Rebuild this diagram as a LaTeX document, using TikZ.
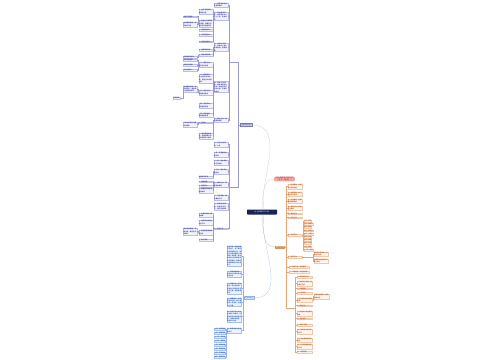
\documentclass[tikz,border=0pt]{standalone}
\usepackage{fontspec}
\setmainfont{Noto Sans CJK SC}
\XeTeXlinebreaklocale "zh"
\XeTeXlinebreakskip = 0pt plus 1pt
\usetikzlibrary{calc}

\definecolor{navy}{HTML}{1B2357}
\definecolor{bbox}{HTML}{BCBCE8}
\definecolor{btext}{HTML}{5050AC}
\definecolor{bline}{HTML}{9898DA}
\definecolor{sbox}{HTML}{A4BEEE}
\definecolor{stext}{HTML}{3F6CC4}
\definecolor{sline}{HTML}{94B2EC}
\definecolor{obox}{HTML}{F2C6A8}
\definecolor{otext}{HTML}{C4672E}
\definecolor{oline}{HTML}{E8A474}
\definecolor{pinkfill}{HTML}{F4A2A2}
\definecolor{ptext}{HTML}{8C2E2E}
\newcommand{\leaffont}{\bfseries\fontsize{4.3}{6.5}\selectfont}

\begin{document}
\begin{tikzpicture}[x=0.1cm,y=-0.1cm]
	\tikzset{leafbox/.style={draw=#1,line width=0.25pt,fill=#1!20,inner sep=0.6pt,align=left,font=\leaffont}}
	\tikzset{bleaf/.style={leafbox=bbox,text=btext,text width=1.35cm,anchor=east}}
	\tikzset{sleaf/.style={leafbox=sbox,text=stext,text width=1.4cm,anchor=east}}
	\tikzset{sitem/.style={leafbox=sbox,text=stext,anchor=east}}
	\tikzset{oleaf/.style={leafbox=obox,text=otext,text width=1.4cm,anchor=west}}
	\tikzset{oitem/.style={leafbox=obox,text=otext,anchor=west}}
	\tikzset{bedge/.style={draw=bline,line width=0.25pt}}
	\tikzset{sedge/.style={draw=sline,line width=0.25pt}}
	\tikzset{oedge/.style={draw=oline,line width=0.25pt}}
	\tikzset{branch/.style={inner sep=0.5pt,minimum height=0.3cm,font=\fontsize{4}{4.5}\selectfont}}

	\fill[white] (0,0) rectangle (500,360);
	\useasboundingbox (0,0) rectangle (500,360);

	% centre and main branches
	\node[fill=navy,text=white,rounded corners=1.5pt,minimum width=3cm,minimum height=0.5cm,
	      inner sep=0.5pt,font=\fontsize{4.6}{5}\selectfont] (ctr) at (262,212) {幼儿园班级工作计划};
	\node[branch,fill=bbox!80,draw=bline!80!black,text=btext!70!black,minimum width=1.2cm,anchor=west] (A) at (240,125) {班级工作计划};
	\node[branch,fill=sbox!45,draw=sline,text=stext,minimum width=1cm,anchor=west] (B) at (244,298) {工作计划范文};
	\node[branch,fill=oline!90!black,text=white,minimum width=1cm] (C) at (280,247) {学期工作计划};
	\node[fill=pinkfill,text=ptext,rounded corners=3pt,text width=1.95cm,align=center,inner sep=1.5pt,
	      font=\fontsize{5}{6}\selectfont] (P) at (284.5,179) {幼儿园班级工作计划\\范文（通用）};

	\draw[draw=bbox,line width=0.5pt] (ctr.north) to[out=90,in=0] (A.east);
	\draw[draw=gray!40,line width=0.5pt] ([xshift=0.15cm]ctr.north) to[out=90,in=180] (P.west);
	\draw[draw=sline,line width=0.5pt] (ctr.south) to[out=-90,in=0] (B.east);
	\draw[draw=oline,line width=0.5pt] ([xshift=0.15cm]ctr.south) to[out=-90,in=180] (C.west);

	% branch A, upper group
	\coordinate (ja1) at (229.5,62);
	\coordinate (ja2) at (229.5,187);
	\node[bleaf] (a1) at (228,5) {一、指导思想与总体目标要求};
	\node[bleaf] (a2) at (228,16) {二、班级情况分析：本班现有幼儿三十二名，男女各半};
	\node[bleaf] (a3) at (228,47) {三、学期工作目标：促进幼儿身心和谐发展，提高质量};
	\node[bleaf] (a4) at (228,87) {四、具体工作措施：结合本班幼儿实际，制定切实可行的计划，开展多种活动};
	\node[bleaf] (a5) at (228,120) {五、家长工作：加强家园联系};
	\node[bleaf] (m1) at (212.7,11.5) {1、生活习惯良好，自理能力强};
	\node[bleaf] (m2) at (212.7,23.5) {2、部分幼儿规则意识较弱，需要在日常生活中加强引导};
	\node[bleaf] (m3) at (212.7,30) {3、语言表达能力};
	\node[bleaf] (m4) at (212.7,35) {4、动手操作能力};
	\node[bleaf] (m5) at (212.7,41.5) {5、社会交往能力};
	\node[bleaf] (m6) at (212.7,50) {1、健康领域目标};
	\node[bleaf] (m7) at (212.7,55) {2、语言领域目标};
	\node[bleaf] (l1) at (197.4,16.5) {注重个别差异};
	\node[bleaf] (l2) at (197.4,24.5) {加强常规教育，培养良好习惯};
	\node[bleaf] (l3) at (197.4,57) {能清楚表达想法};
	\node[bleaf] (m8) at (212.7,64.5) {（一）保育工作：做好卫生消毒};
	\node[bleaf] (m9) at (212.7,78.5) {（二）教育教学：以主题活动为主线，整合五大领域内容};
	\node[bleaf] (m10) at (212.7,92.5) {（三）安全工作：加强安全教育};
	\node[bleaf] (m11) at (212.7,105.5) {（四）区域活动：丰富材料投放};
	\node[bleaf] (m12) at (212.7,115) {（五）环境创设：营造温馨氛围};
	\node[bleaf] (l4) at (197.4,60) {每日开窗通风};
	\node[bleaf] (l5) at (197.4,65) {餐具定时消毒};
	\node[bleaf] (l6) at (197.4,70) {关注体弱幼儿};
	\node[bleaf] (l7) at (197.4,89) {利用晨间谈话、游戏等形式，增强幼儿自我保护意识};
	\node[bleaf,text width=0.7cm] (l8) at (180.5,98) {定期演练};
	\node[bleaf] (m13) at (212.7,122.5) {1、家长会};
	\node[bleaf] (m14) at (212.7,136) {2、通过家园联系栏、微信群等方式及时反馈幼儿情况};
	\node[bleaf] (l9) at (197.4,124.5) {介绍本学期工作重点与要求};

	% branch A, lower group
	\node[bleaf] (a6) at (228,144.5) {六、月份工作安排：九月};
	\node[bleaf] (a7) at (228,154.5) {十月：开展国庆主题活动};
	\node[bleaf] (a8) at (228,162.5) {十一月：举办秋季亲子运动会};
	\node[bleaf] (a9) at (228,171.5) {十二月：迎新年主题活动};
	\node[bleaf] (a10) at (228,184.5) {七、教研工作：积极参加教研};
	\node[bleaf] (a11) at (228,197.5) {八、卫生保健：做好晨检工作};
	\node[bleaf] (a12) at (228,206.5) {九、教师自身提高：加强业务学习，提升专业素养};
	\node[bleaf] (a13) at (228,228.5) {十、其他工作};
	\node[bleaf] (m15) at (212.7,177) {布置新年环境};
	\node[bleaf] (m16) at (212.7,181.5) {1、集体备课};
	\node[bleaf] (m17) at (212.7,186) {2、观摩研讨};
	\node[bleaf] (m18) at (212.7,190.5) {3、撰写教学反思与经验总结};
	\node[bleaf] (m19) at (212.7,215) {1、认真完成幼儿成长档案};
	\node[bleaf] (m20) at (212.7,222.5) {2、做好期末总结与评价工作};
	\node[bleaf] (m21) at (212.7,232.5) {3、配合园部完成各项任务};
	\node[bleaf] (m22) at (212.7,240) {4、财产管理};
	\node[bleaf] (l10) at (197.4,231.5) {爱护班级物品，定期清点，做好登记与维护};

	% edges of branch A
	\draw[bedge] (A.west) -- ++(-2,0) |- (ja1);
	\draw[bedge] (A.west) -- ++(-2,0) |- (ja2);
	\foreach \r in {a1,a2,a3,a4,a5} \draw[bedge] (ja1) |- (\r.east);
	\foreach \r in {a6,a7,a8,a9,a10,a11,a12,a13} \draw[bedge] (ja2) |- (\r.east);
	\foreach \c in {m1,m2,m3,m4,m5} \draw[bedge] (a2.west) -- ++(-0.7,0) |- (\c.east);
	\foreach \c in {m6,m7} \draw[bedge] (a3.west) -- ++(-0.7,0) |- (\c.east);
	\foreach \c in {m8,m9,m10,m11,m12} \draw[bedge] (a4.west) -- ++(-0.7,0) |- (\c.east);
	\foreach \c in {m13,m14} \draw[bedge] (a5.west) -- ++(-0.7,0) |- (\c.east);
	\foreach \c in {l1,l2} \draw[bedge] (m2.west) -- ++(-0.7,0) |- (\c.east);
	\foreach \c in {l4,l5,l6} \draw[bedge] (m8.west) -- ++(-0.7,0) |- (\c.east);
	\draw[bedge] (m7.west) -- ++(-0.7,0) |- (l3.east);
	\draw[bedge] (m10.west) -- ++(-0.7,0) |- (l7.east);
	\draw[bedge] (l7.west) -- ++(-0.5,0) |- (l8.east);
	\draw[bedge] (m13.west) -- ++(-0.7,0) |- (l9.east);
	\draw[bedge] (a9.west) -- ++(-0.7,0) |- (m15.east);
	\foreach \c in {m16,m17,m18} \draw[bedge] (a10.west) -- ++(-0.7,0) |- (\c.east);
	\foreach \c in {m19,m20,m21,m22} \draw[bedge] (a13.west) -- ++(-0.7,0) |- (\c.east);
	\draw[bedge] (m21.west) -- ++(-0.7,0) |- (l10.east);

	% branch B
	\node[sleaf] (b1) at (241.5,256) {时光飞逝，新的学期又开始了。为了更好地开展班级工作，使幼儿在原有基础上得到进一步发展，结合本班幼儿的年龄特点和实际情况，特制定本学期班级工作计划如下。};
	\node[sleaf] (b2) at (241.5,274) {一、班级基本情况：本班幼儿大部分来自周边社区};
	\node[sleaf] (b3) at (241.5,288.5) {二、保教工作：严格执行一日生活常规，培养幼儿良好的生活卫生习惯，提高自理能力};
	\node[sleaf] (b4) at (241.5,302) {三、教育教学：认真制定周计划，精心准备每一次活动，注重幼儿兴趣};
	\node[sleaf] (b5) at (241.5,316.5) {四、安全工作：树立安全第一的思想，认真检查活动场地和设施，消除安全隐患，确保幼儿安全};
	\node[sleaf] (b6) at (241.5,330.5) {五、每月具体工作安排如下};
	\foreach \t [count=\i] in {九月：稳定情绪,十月：常规培养,十一月：家长会,十二月：迎新年,一月：期末总结,二月：寒假安排,三月：开学准备,四月：春游活动}
		\node[sitem] (s\i) at (225.5,325+4*\i) {\t};
	\foreach \c in {b1,b2,b3,b4,b5,b6} \draw[sedge] (B.west) -- ++(-1.2,0) |- (\c.east);
	\foreach \i in {1,...,8} \draw[sedge] (b6.west) -- ++(-0.7,0) |- (s\i.east);

	% branch C
	\coordinate (jc) at (295,308);
	\node[oleaf] (c1) at (287.5,186.5) {一、指导思想：以园务计划为依据};
	\node[oleaf] (c2) at (287.5,194) {二、班级现状：幼儿适应能力较强};
	\node[oleaf] (c3) at (287.5,201) {三、工作目标：全面提高保教质量};
	\node[oleaf] (c4) at (287.5,208) {四、保育工作：抓好生活常规};
	\node[oleaf] (c5) at (287.5,213.5) {五、教育工作};
	\node[oleaf] (c6) at (287.5,217.5) {六、安全工作};
	\node[oleaf] (c7) at (287.5,235) {七、月份安排};
	\node[oleaf] (c8) at (287.5,257) {八、家长工作};
	\node[oleaf,text width=2cm] (c9) at (289,267) {九、教研工作：参加教研};
	\node[oleaf,text width=2cm] (c10) at (289,272) {十、环境创设：布置主题墙};
	\foreach \t [count=\i] in {二月：开学,三月：植树节,四月：春游,五月：劳动节,六月：儿童节,七月：毕业,八月：暑期,九月：入园,十月：国庆,十一月：体检}
		\node[oitem] (f\i) at (303.5,217.8+3.2*\i) {\t};
	\node[oleaf,text width=1.45cm] (e1) at (313.5,254) {定期召开家长会，交流育儿经验};
	\node[oleaf,text width=1.45cm] (e2) at (313.5,261) {利用家园栏宣传科学育儿知识};
	\node[oleaf,text width=1.5cm] (o1) at (297,277) {1、晨间接待工作};
	\node[oleaf,text width=1.5cm] (o2) at (297,283.5) {2、组织幼儿进餐，培养良好习惯};
	\node[oleaf,text width=1.5cm] (o3) at (297,288.5) {3、午睡管理};
	\node[oleaf,text width=1.5cm] (o4) at (297,293) {4、户外活动};
	\node[oleaf,text width=1.5cm] (o5) at (297,300) {5、区域活动材料定期更换};
	\node[oleaf,text width=1.5cm] (o6) at (297,305.5) {6、离园工作};
	\node[oleaf,text width=1.5cm] (o7) at (297,313.5) {7、加强幼儿安全意识教育};
	\node[oleaf,text width=1.5cm] (o8) at (297,318.5) {8、卫生消毒};
	\node[oleaf,text width=1.5cm] (o9) at (297,325) {9、体弱儿管理};
	\node[oleaf,text width=1.5cm] (o10) at (297,331.5) {10、做好幼儿成长记录工作};
	\node[oleaf,text width=1.5cm] (o11) at (297,340) {11、配合保健医做好体检};
	\node[oleaf,text width=1.5cm] (o12) at (297,346.5) {12、认真完成期末评价工作};
	\node[oleaf,text width=1.5cm] (o13) at (297,352) {13、学期总结};
	\node[oleaf,text width=1.5cm] (g1) at (314,296.5) {根据主题需要，增添游戏材料};

	% edges of branch C
	\foreach \c in {c1,c2,c3,c4,c5,c6,c7,c8,c9,c10} \draw[oedge] (C.east) -- ++(1.2,0) |- (\c.west);
	\draw[oedge] (C.east) -- ++(1.2,0) |- (jc);
	\foreach \i in {1,...,10} \draw[oedge] (c7.east) -- ++(0.8,0) |- (f\i.west);
	\foreach \c in {e1,e2} \draw[oedge] (c8.east) -- ++(11,0) |- (\c.west);
	\foreach \i in {1,...,13} \draw[oedge] (jc) |- (o\i.west);
	\draw[oedge] (o5.east) -- ++(0.8,0) |- (g1.west);
\end{tikzpicture}
\end{document}
